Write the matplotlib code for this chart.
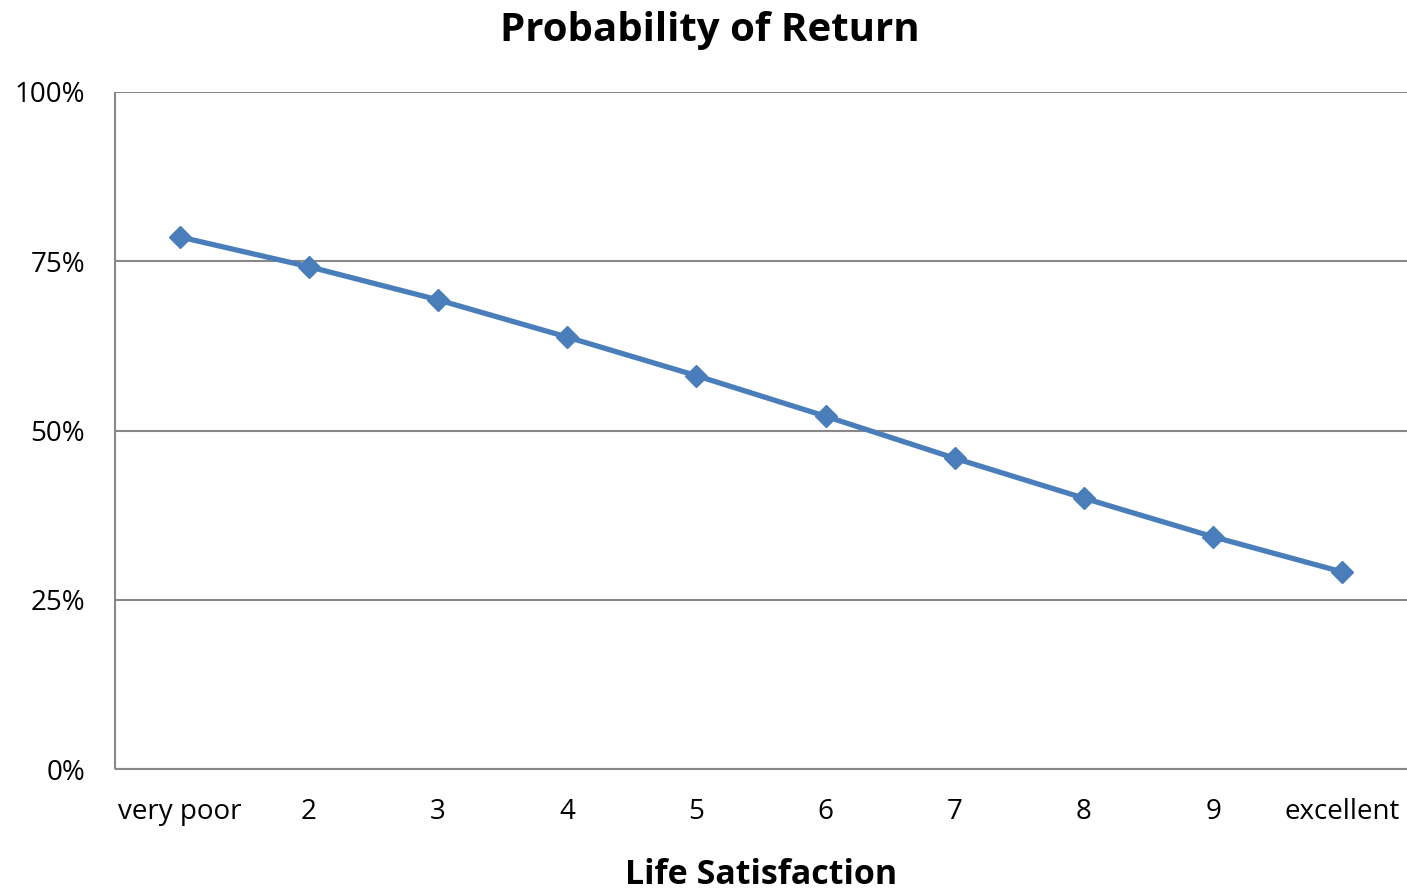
import matplotlib
matplotlib.use("Agg")
import matplotlib.pyplot as plt
from matplotlib.ticker import FuncFormatter

categories = ["very poor", "2", "3", "4", "5", "6", "7", "8", "9", "excellent"]
probability = [78.6, 74.2, 69.3, 63.8, 58.1, 52.1, 45.9, 40.0, 34.3, 29.1]
y_ticks = [0, 25, 50, 75, 100]

plt.rcParams['font.family'] = ['Open Sans', 'DejaVu Sans']

fig = plt.figure(figsize=(14.07, 8.94), dpi=100)
ax = fig.add_axes([115/1407, 1-769/894, 1-115/1407, (769-92)/894])

x = list(range(len(categories)))
ax.plot(x, probability, color='#4A7EBB', linewidth=3.8, marker='D', markersize=11.5,
        markeredgecolor='#4A7EBB', markerfacecolor='#4A7EBB', zorder=3)

ax.set_xlim(-0.5, len(categories) - 0.5)
ax.set_ylim(0, 100)
ax.set_yticks(y_ticks)
ax.yaxis.set_major_formatter(FuncFormatter(lambda v, p: f"{int(v)}%"))
ax.set_xticks(x)
ax.set_xticklabels(categories)
ax.tick_params(axis='both', length=0, labelsize=20, colors='black')
ax.tick_params(axis='y', pad=21.5)
ax.tick_params(axis='x', pad=21)
ax.grid(axis='y', color='#888888', linewidth=1.5)
ax.set_axisbelow(True)
for s in ['top', 'right']:
    ax.spines[s].set_visible(False)
for s in ['left', 'bottom']:
    ax.spines[s].set_color('#888888')
    ax.spines[s].set_linewidth(1.5)
    ax.spines[s].set_capstyle('butt')

fig.text(710/1407, 1-31/894, "Probability of Return", ha='center', va='center',
         fontsize=29, fontweight='bold')
fig.text(761/1407, 1-875/894, "Life Satisfaction", ha='center', va='center',
         fontsize=24.5, fontweight='bold')

fig.savefig("out.png", dpi=100)
